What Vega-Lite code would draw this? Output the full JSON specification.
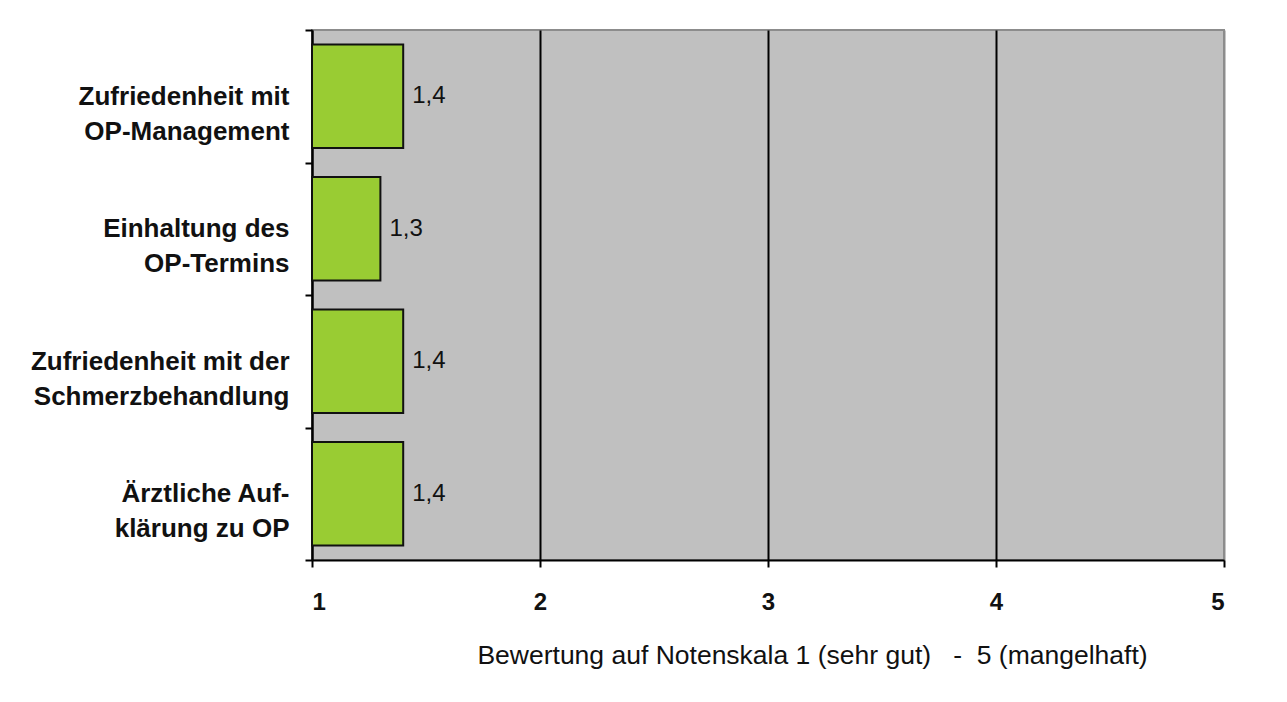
{
  "$schema": "https://vega.github.io/schema/vega-lite/v6.json",
  "autosize": "none",
  "width": 912,
  "height": 530,
  "padding": {"left": 312, "top": 30, "right": 63, "bottom": 142},
  "background": "white",
  "config": {
    "font": "Liberation Sans",
    "view": {"fill": "#C0C0C0", "stroke": "#8c8c8c", "strokeWidth": 2},
    "locale": {"number": {"decimal": ",", "thousands": ".", "grouping": [3], "currency": ["", " €"]}}
  },
  "data": {
    "values": [
      {"item": "Zufriedenheit mit|OP-Management", "value": 1.4},
      {"item": "Einhaltung des|OP-Termins", "value": 1.3},
      {"item": "Zufriedenheit mit der|Schmerzbehandlung", "value": 1.4},
      {"item": "Ärztliche Auf-|klärung zu OP", "value": 1.4}
    ]
  },
  "encoding": {
    "y": {
      "field": "item",
      "type": "nominal",
      "sort": null,
      "scale": {"paddingInner": 0, "paddingOuter": 0},
      "axis": {
        "title": null,
        "labelExpr": "split(datum.label, '|')",
        "labelFont": "Liberation Sans",
        "labelFontWeight": "bold",
        "labelFontSize": 26,
        "labelLineHeight": 35,
        "labelColor": "#111",
        "labelPadding": 16,
        "labelLimit": 400,
        "tickBand": "extent",
        "tickSize": 7,
        "tickColor": "black",
        "tickWidth": 2,
        "domainColor": "black",
        "domainWidth": 2,
        "grid": false
      }
    }
  },
  "layer": [
    {
      "mark": {"type": "bar", "fill": "#99CC33", "stroke": "#111", "strokeWidth": 2, "height": {"band": 0.78}},
      "encoding": {
        "x": {
          "field": "value",
          "type": "quantitative",
          "scale": {"domain": [1, 5], "nice": false, "zero": false},
          "axis": {
            "values": [1, 2, 3, 4, 5],
            "format": "d",
            "title": "Bewertung auf Notenskala 1 (sehr gut)\u00a0\u00a0\u00a0-\u00a0\u00a05 (mangelhaft)",
            "titleFont": "Liberation Sans",
            "titleFontWeight": "normal",
            "titleFontSize": 26.5,
            "titleColor": "#111",
            "titleX": 500,
            "titlePadding": 28,
            "labelFont": "Liberation Sans",
            "labelFontWeight": "bold",
            "labelFontSize": 24,
            "labelColor": "#111",
            "labelPadding": 23,
            "tickSize": 7,
            "tickColor": "black",
            "tickWidth": 2,
            "domainColor": "black",
            "domainWidth": 2,
            "grid": true,
            "gridColor": {"condition": {"test": "datum.value === 5", "value": "#8c8c8c"}, "value": "black"},
            "gridWidth": 2,
            "gridOpacity": 1
          }
        },
        "x2": {"datum": 1}
      }
    },
    {
      "mark": {"type": "text", "align": "left", "baseline": "middle", "dx": 9, "fontSize": 24, "color": "#111"},
      "encoding": {
        "x": {"field": "value", "type": "quantitative"},
        "text": {"field": "value", "type": "quantitative", "format": ".1f"}
      }
    }
  ]
}
